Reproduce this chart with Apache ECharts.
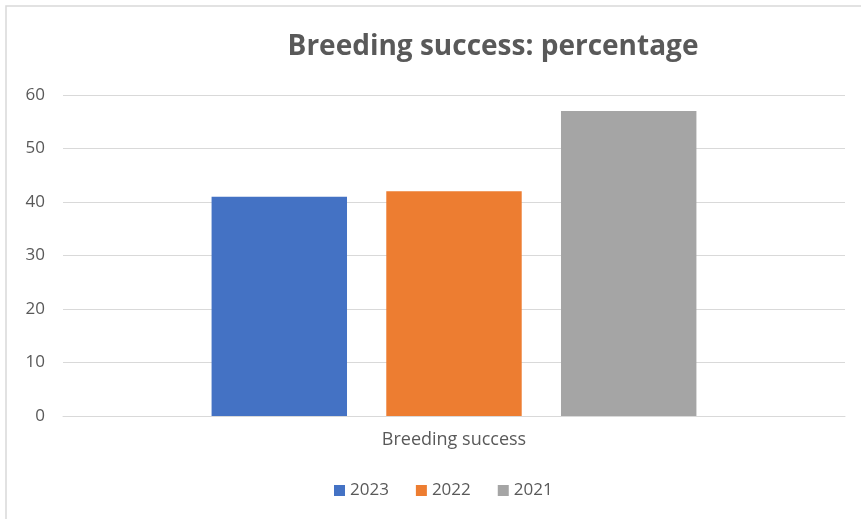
<!DOCTYPE html>
<html><head><meta charset="utf-8">
<script src="https://cdn.jsdelivr.net/npm/echarts@6/dist/echarts.min.js"></script>
<style>html,body{margin:0;padding:0;background:#fff}#c{width:861px;height:519px}</style>
</head><body><div id="c"></div>
<script>
const categories = ['Breeding success'];
const seriesNames = ['2023', '2022', '2021'];
const values2023 = [41];
const values2022 = [42];
const values2021 = [57];
const colors = ['#4472C4', '#ED7D31', '#A5A5A5'];
const yTicks = { min: 0, max: 60, interval: 10 };

const chart = echarts.init(document.getElementById('c'));
const font = '"Open Sans", "Liberation Sans", sans-serif';
const data = [values2023, values2022, values2021];
chart.setOption({
  animation: false,
  textStyle: { fontFamily: font },
  graphic: [{ type: 'rect', shape: { x: 6, y: 6, width: 900, height: 600 }, style: { fill: 'none', stroke: '#d9d9d9', lineWidth: 1.5 } }],
  title: {
    text: 'Breeding success: percentage',
    left: 488, top: 28, textAlign: 'center',
    textStyle: { fontFamily: font, fontSize: 28, fontWeight: 'bold', color: '#595959' }
  },
  legend: {
    top: 477, left: 329, itemWidth: 11, itemHeight: 11, itemGap: 27,
    icon: 'rect',
    textStyle: { fontFamily: font, fontSize: 17, color: '#595959' },
    data: seriesNames
  },
  grid: { left: 63, right: 16, top: 95, bottom: 103, containLabel: false },
  xAxis: {
    type: 'category', data: categories,
    axisLine: { lineStyle: { color: '#d9d9d9', width: 1 } },
    axisTick: { show: false },
    axisLabel: { fontFamily: font, fontSize: 18, color: '#595959', margin: 15 }
  },
  yAxis: {
    type: 'value', min: yTicks.min, max: yTicks.max, interval: yTicks.interval,
    axisLine: { show: false }, axisTick: { show: false },
    splitLine: { lineStyle: { color: '#d9d9d9', width: 1 } },
    axisLabel: { fontFamily: font, fontSize: 17, color: '#595959', margin: 18 }
  },
  series: seriesNames.map((n, i) => ({
    name: n, type: 'bar', data: data[i],
    itemStyle: { color: colors[i] },
    barGap: '29%', barCategoryGap: '38%'
  }))
});
</script></body></html>
